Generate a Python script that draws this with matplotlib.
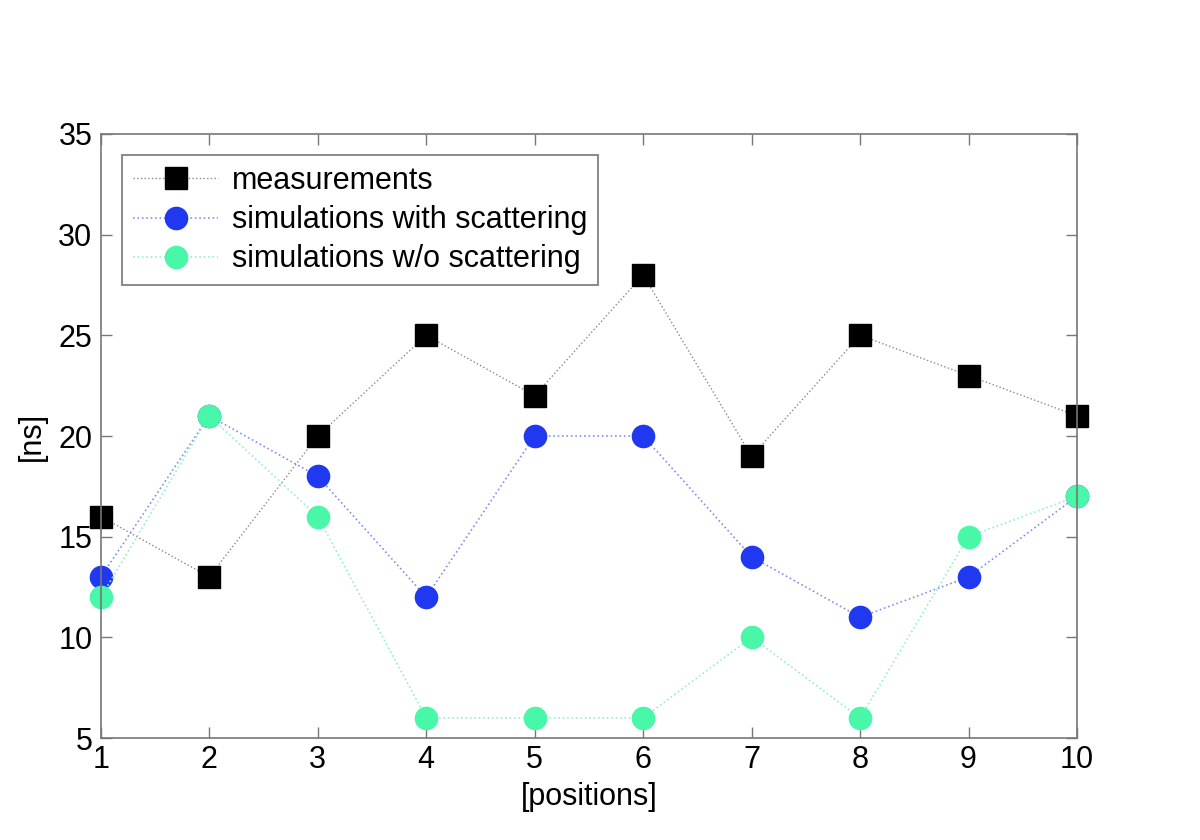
import matplotlib
matplotlib.use("Agg")
import matplotlib.pyplot as plt

plt.rcParams['font.family'] = ['Liberation Sans', 'DejaVu Sans']

positions = [1, 2, 3, 4, 5, 6, 7, 8, 9, 10]
measurements = [16, 13, 20, 25, 22, 28, 19, 25, 23, 21]
sim_scatter = [13, 21, 18, 12, 20, 20, 14, 11, 13, 17]
sim_noscatter = [12, 21, 16, 6, 6, 6, 10, 6, 15, 17]

fig = plt.figure(figsize=(12, 8.4), dpi=100)
ax = fig.add_axes([0.084, 0.1214, 0.8135, 0.7191])

ax.plot(positions, measurements, linestyle=':', color='#8a8a8a', linewidth=1,
        marker='s', markersize=16, markerfacecolor='black', markeredgecolor='black',
        label='measurements', clip_on=False)
ax.plot(positions, sim_scatter, linestyle=':', color='#8090f0', linewidth=1.2,
        marker='o', markersize=16, markerfacecolor='#2038f0', markeredgecolor='#2038f0',
        label='simulations with scattering', clip_on=False)
ax.plot(positions, sim_noscatter, linestyle=':', color='#90f0d0', linewidth=1.2,
        marker='o', markersize=16, markerfacecolor='#48f8a8', markeredgecolor='#48f8a8',
        label='simulations w/o scattering', clip_on=False)

ax.set_xlim(1, 10)
ax.set_ylim(5, 35)
ax.set_xticks(positions)
ax.set_yticks(range(5, 36, 5))
ax.tick_params(direction='in', top=True, right=True, labelsize=22, length=8,
               color='#777777', width=1)
ax.tick_params(axis='x', pad=5)
ax.tick_params(axis='y', pad=6)
for s in ax.spines.values():
    s.set_color('#777777')
    s.set_linewidth(1.2)

ax.set_xlabel('[positions]', fontsize=22, labelpad=5)
ax.set_ylabel('[ns]', fontsize=22, labelpad=8)

leg = ax.legend(loc='upper left', fontsize=22, frameon=True, fancybox=False,
                edgecolor='#555555', borderpad=0.35, labelspacing=0.3,
                handlelength=2.8, handletextpad=0.45, borderaxespad=0.7)
leg.get_frame().set_linewidth(1.2)

fig.savefig('out.png', dpi=100)
